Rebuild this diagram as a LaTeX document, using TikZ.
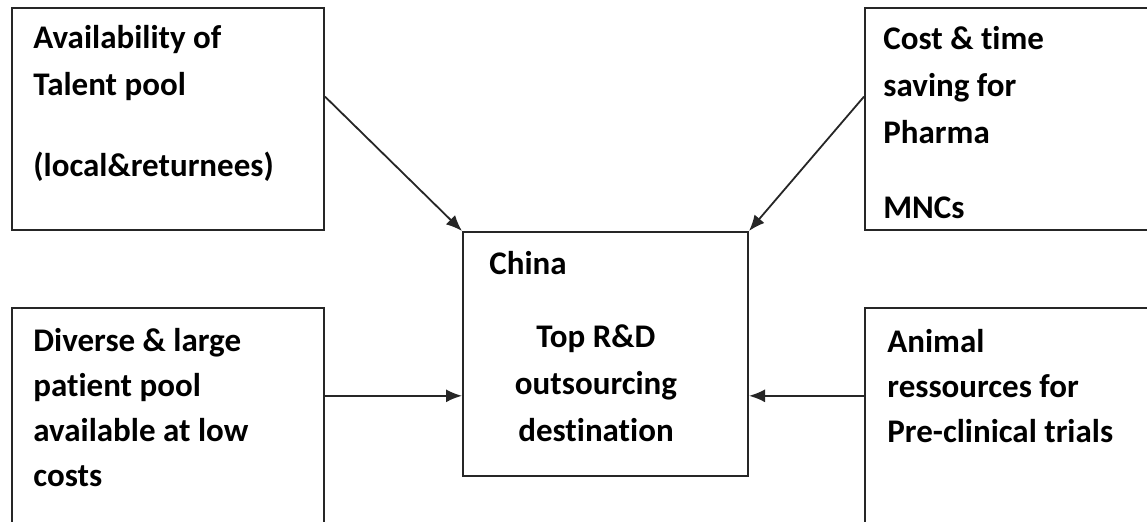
\documentclass[tikz,border=0pt]{standalone}
\usepackage{fontspec}
\setmainfont{Carlito}[Ligatures=CommonOff]
\usetikzlibrary{arrows.meta,calc}

\tikzset{
	kasten/.style={draw=black!85, line width=1pt, rectangle, inner sep=0pt,
	anchor=north west},
	beschr/.style={font=\bfseries\fontsize{16.5pt}{23.5pt}\selectfont,
	align=left, anchor=north west, inner sep=0pt},
	pfeil/.style={-{Latex[length=8pt,width=6.5pt]}, line width=0.9pt,
	draw=black!85}
}

\begin{document}
\begin{tikzpicture}[x=0.5pt, y=-0.5pt]
	\clip (0,0) rectangle (1147,521);
	% Kaesten
	\node[kasten, minimum width=156pt, minimum height=111pt] (talent) at (11,7) {};
	\node[kasten, minimum width=156pt, minimum height=111pt] (cost) at (864,7) {};
	\node[kasten, minimum width=156pt, minimum height=120pt] (patient) at (11,307) {};
	\node[kasten, minimum width=156pt, minimum height=120pt] (animal) at (864,307) {};
	\node[kasten, minimum width=142.5pt, minimum height=122pt] (china) at (462,231) {};

	% Beschriftungen
	\node[beschr] (talenttxt) at (33,15.1)
		{\strut Availability of\\Talent pool\\[17pt](local\&returnees)};
	\node[beschr] (costtxt) at (883,16.1)
		{\strut Cost \& time\\saving for\\Pharma\\[14pt]MNCs};
	\node[beschr, font=\bfseries\fontsize{16.5pt}{22.5pt}\selectfont] (patienttxt) at (33,319.5)
		{\strut Diverse \& large\\patient pool\\available at low\\costs};
	\node[beschr, font=\bfseries\fontsize{16.5pt}{22.5pt}\selectfont] (animaltxt) at (887,320.5)
		{\strut Animal\\ressources for\\Pre-clinical trials};
	\node[beschr, anchor=base west] (chinatxt) at (489,274) {China};
	\node[beschr, align=center, anchor=north] (toptxt) at (596,314.1)
		{\strut Top R\&D\\outsourcing\\destination};

	% Pfeile
	\coordinate (inL) at ($(china.north west)!0.67!(china.south west)$);
	\coordinate (inR) at ($(china.north east)!0.67!(china.south east)$);
	\draw[pfeil] ($(talent.north east)!0.4!(talent.south east)$) -- (china.north west);
	\draw[pfeil] ($(cost.north west)!0.4!(cost.south west)$) -- (china.north east);
	\draw[pfeil] (inL -| patient.east) -- (inL);
	\draw[pfeil] (inR -| animal.west) -- (inR);
\end{tikzpicture}
\end{document}
